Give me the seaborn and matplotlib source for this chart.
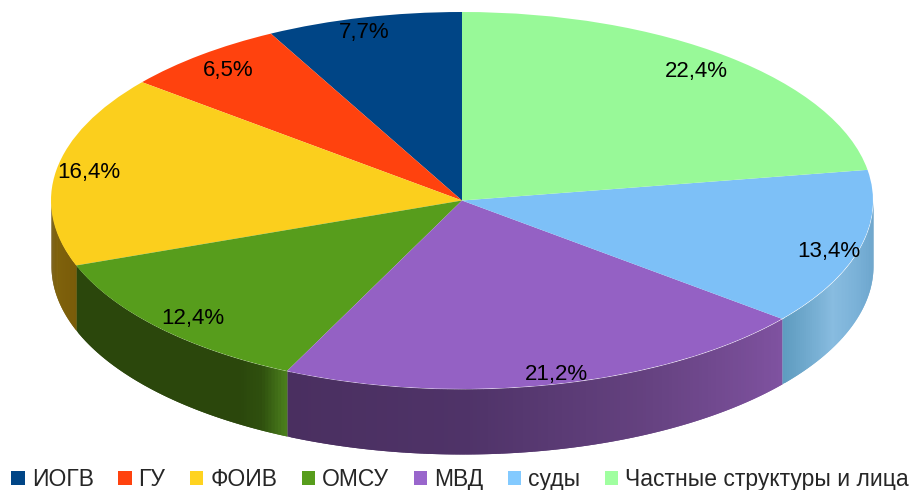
import numpy as np
import matplotlib
matplotlib.use("Agg")
import matplotlib.pyplot as plt
from matplotlib.patches import Patch
import seaborn as sns

# данные диаграммы
categories = ["ИОГВ", "ГУ", "ФОИВ", "ОМСУ", "МВД", "суды", "Частные структуры и лица"]
shares = [7.7, 6.5, 16.4, 12.4, 21.2, 13.4, 22.4]
top_colors = ["#004586", "#ff420e", "#fbcf1d", "#579d1c", "#9461c4", "#7dc0f7", "#98f998"]
legend_colors = ["#004586", "#ff420e", "#ffd320", "#579d1c", "#9966cc", "#83caff", "#a0ffa0"]
# цвета боковой стенки (слева направо по фронту)
side_colors = [
    ["#004586", "#004586"],
    ["#ff420e", "#ff420e"],
    ["#6f5510", "#7f620b", "#7a5c0a"],
    ["#2b470c"] * 11 + ["#2f500e", "#4a7d1c"],
    ["#4a2f60", "#4f3368", "#64417f", "#7f52a0"],
    ["#5f9cc0", "#88bce0", "#75add4", "#629fc8"],
    ["#98f998", "#98f998"],
]
# сдвиг подписей в пикселях
label_nudges = [(-7, 0), (6, 4), (0, 0), (10, 1), (10, 5), (1, 7), (-10, 3)]

sns.set_theme(style="white")
plt.rcParams["font.family"] = ["Liberation Sans", "DejaVu Sans"]

# размеры эллипса в пикселях картинки
W, H = 918, 490
cx, cy, rx, ry, depth = 462, 200.5, 411, 188.5, 65

fig = plt.figure(figsize=(W / 100, H / 100), dpi=100)
ax = fig.add_axes([0, 0, 1, 1])

# боковая стенка: полоски под верхней плоскостью
edges = np.cumsum([0] + shares) / 100
drop = depth / ry
for start, stop, colors in zip(edges[:-1], edges[1:], side_colors):
    lo, hi = max(start, 0.25), min(stop, 0.75)
    if hi <= lo:
        continue
    n = max(int((hi - lo) * 720), 2)
    strip_colors = sns.blend_palette(colors, n)
    t = np.linspace(lo, hi, n + 1)
    ang = np.pi / 2 + 2 * np.pi * t
    for i in range(n):
        # полоска заходит на следующую, чтобы не было швов
        j = min(i + 3, n + 1)
        xs = np.cos(ang[i:j])
        ys = np.sin(ang[i:j])
        ax.fill_between(xs, ys, ys - drop, color=strip_colors[i], lw=0)

wedges, _, autotexts = ax.pie(
    shares,
    colors=top_colors,
    startangle=90,
    counterclock=True,
    radius=1,
    autopct=lambda p: f"{p:.1f}%".replace(".", ","),
    pctdistance=0.92,
    wedgeprops={"linewidth": 0},
    textprops={"fontsize": 16, "color": "black"},
)
for label, (dx, dy) in zip(autotexts, label_nudges):
    x, y = label.get_position()
    label.set_position((x + dx / rx, y - dy / ry))

ax.set_aspect("auto")
ax.set_xlim(-cx / rx, (W - cx) / rx)
ax.set_ylim((cy - H) / ry, cy / ry)
ax.axis("off")

handles = [Patch(color=c, lw=0) for c in legend_colors]
ax.legend(
    handles,
    categories,
    loc="lower left",
    bbox_to_anchor=(0.007, -0.012),
    ncol=7,
    frameon=False,
    fontsize=16.5,
    handlelength=0.6,
    handleheight=0.6,
    handletextpad=0.3,
    columnspacing=1.06,
    borderpad=0.2,
    borderaxespad=0,
)

fig.savefig("out.png", dpi=100)
